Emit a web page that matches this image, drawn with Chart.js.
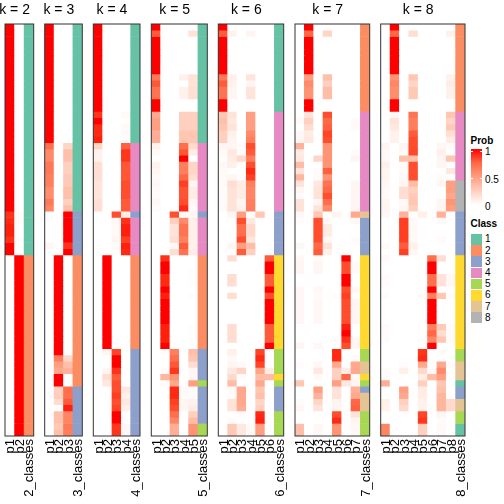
<!DOCTYPE html>
<html>
<head>
<meta charset="utf-8">
<script src="https://cdn.jsdelivr.net/npm/chart.js@4"></script>
<style>
body { margin: 0; background: #fff; font-family: "Liberation Sans", sans-serif; }
canvas { position: absolute; top: 0; }
.lg { position: absolute; font-size: 10px; line-height: 12px; color: #000; }
</style>
</head>
<body>
<script>
// membership probabilities, one array per column, top row first (groups of 10 rows)
const k2p1 = [1,1,1,1,1,1,1,1,1,1, 1,1,1,1,1,1,1,1,1,1, 1,1,1,1,1,1,1,1,1,1, .93,.95,.97,.97,.93,1,1,0,0,0, 0,0,0,0,0,0,0,0,0,0, 0,0,0,0,0,0,0,0,0,0, 0,0,0,0,0,0];
const k2p2 = [0,0,0,0,0,0,0,0,0,0, 0,0,0,0,0,0,0,0,0,0, 0,0,0,0,0,0,0,0,0,0, .02,.02,0,0,.02,0,0,1,1,1, 1,1,1,1,1,1,1,1,1,1, 1,1,1,1,1,1,1,1,1,1, 1,1,1,1,1,1];
const k2classes = [1,1,1,1,1,1,1,1,1,1, 1,1,1,1,1,1,1,1,1,1, 1,1,1,1,1,1,1,1,1,1, 1,1,1,1,1,1,1,2,2,2, 2,2,2,2,2,2,2,2,2,2, 2,2,2,2,2,2,2,2,2,2, 2,2,2,2,2,2];

const k3p1 = [1,1,1,1,1,1,1,1,1,1, 1,1,1,1,1,1,1,1,1,.72, .6,.6,.68,.68,.65,.65,.58,.58,.68,.62, 0,0,0,0,0,.04,0,0,0,0, 0,0,0,0,0,0,0,0,0,0, 0,0,0,0,0,0,0,0,0,0, 0,0,0,0,0,0];
const k3p2 = [0,0,0,0,0,0,0,0,0,0, 0,0,0,0,0,0,0,0,0,0, 0,0,0,0,0,0,0,0,0,0, 0,0,0,0,0,0,0,1,1,1, 1,1,1,1,1,1,1,1,1,1, 1,1,1,.65,.5,.45,1,1,.25,.27, .18,0,.33,.33,.28,.33];
const k3p3 = [0,0,0,0,0,0,0,0,0,0, 0,0,0,0,0,0,0,0,0,.22, .33,.33,.25,.25,.28,.28,.33,.33,.25,.33, 1,1,1,1,1,.93,1,0,0,0, 0,0,0,0,0,0,0,0,0,0, 0,0,0,.2,.33,.4,0,0,.72,.72, .8,.97,.62,.62,.68,.65];
const k3classes = [1,1,1,1,1,1,1,1,1,1, 1,1,1,1,1,1,1,1,1,1, 1,1,1,1,1,1,1,1,1,1, 3,3,3,3,3,3,3,2,2,2, 2,2,2,2,2,2,2,2,2,2, 2,2,2,2,2,2,2,2,3,3, 3,3,3,3,3,3];

const k4p1 = [1,1,1,1,1,1,1,1,1,1, 1,1,1,1,.92,1,.95,.95,.97,.22, .07,.07,.17,.17,.17,.14,.14,.14,.17,.17, 0,0,0,0,0,0,0,0,0,0, 0,0,0,0,0,0,0,0,0,0, 0,0,0,0,0,0,0,0,0,0, 0,0,0,0,0,0];
const k4p2 = [0,0,0,0,0,0,0,0,0,0, 0,0,0,0,0,0,0,0,0,0, 0,0,0,0,0,0,0,0,0,0, 0,0,0,0,0,0,0,1,1,1, 1,1,1,1,1,1,1,1,1,1, 1,1,.05,0,0,.05,.18,.12,0,0, 0,0,0,0,0,0];
const k4p3 = [0,0,0,0,0,0,0,0,0,0, 0,0,0,0,0,0,0,0,0,0, 0,0,0,0,0,0,0,0,0,0, .85,.04,.03,.03,.05,.03,.02,0,0,0, 0,0,0,0,0,0,0,0,0,0, 0,0,.88,1,1,.93,.8,.85,.85,.9, .85,.88,1,1,.92,.92];
const k4p4 = [0,0,0,0,0,0,0,0,0,0, 0,0,0,0,.03,0,.03,.03,.01,.78, .92,.92,.82,.82,.82,.85,.85,.85,.8,.8, .1,.93,.97,.97,.9,.97,.95,0,0,0, 0,0,0,0,0,0,0,0,0,0, 0,0,0,0,0,0,0,0,.12,.08, .12,.08,0,0,.04,.04];
const k4classes = [1,1,1,1,1,1,1,1,1,1, 1,1,1,1,1,1,1,1,1,4, 4,4,4,4,4,4,4,4,4,4, 3,4,4,4,4,4,4,2,2,2, 2,2,2,2,2,2,2,2,2,2, 2,2,3,3,3,3,3,3,3,3, 3,3,3,3,3,3];

const k5p1 = [1,.8,1,1,1,1,1,1,.68,.82, .7,.7,1,1,.45,.5,.5,.42,.42,.07, .03,0,.07,.05,.03,.04,.02,.02,.04,.02, 0,0,0,0,0,0,0,0,0,0, 0,0,0,0,0,0,0,0,0,0, 0,0,0,0,0,0,0,0,0,0, 0,0,0,0,0,0];
const k5p2 = [0,0,0,0,0,0,0,0,0,0, 0,0,0,0,0,0,0,0,0,0, 0,0,0,0,0,0,0,0,0,0, 0,0,0,0,0,0,0,.93,1,1, .95,.95,1,.97,1,1,1,1,.97,.97, .97,1,.01,0,0,.02,.38,.02,0,0, 0,0,0,0,0,0];
const k5p3 = [0,0,0,0,0,0,0,0,0,0, 0,0,0,0,0,0,0,0,0,0, 0,0,0,0,0,0,0,0,0,0, .85,.25,.15,.15,.18,.04,.18,0,0,0, 0,0,0,0,0,0,0,0,0,0, 0,0,.65,.72,.82,.92,.55,.45,.95,.95, .9,.85,.72,.62,.42,.42];
const k5p4 = [0,0,0,0,0,0,0,0,.07,0, .07,.07,0,0,.25,.25,.25,.3,.3,.72, .82,1,.65,.65,.75,.9,.83,.83,.85,.95, .02,.6,.7,.7,.65,.8,.7,0,0,0, 0,0,0,0,0,0,0,0,0,0, 0,0,0,0,0,0,0,0,.03,.03, .05,.05,0,0,0,0];
const k5p5 = [0,.15,0,0,0,0,0,0,.15,.15, .17,.17,0,0,.25,.25,.25,.3,.3,.2, .1,0,.22,.22,.18,.05,.1,.1,.04,.02, .05,.08,.08,.08,.08,.08,.1,0,0,.01, .01,.01,0,.01,0,0,0,0,.01,.01, .01,0,.33,.3,.18,.05,.04,.5,.02,.02, .07,.1,.25,.35,.55,.55];
const k5classes = [1,1,1,1,1,1,1,1,1,1, 1,1,1,1,1,1,1,1,1,4, 4,4,4,4,4,4,4,4,4,4, 3,4,4,4,4,4,4,2,2,2, 2,2,2,2,2,2,2,2,2,2, 2,2,3,3,3,3,3,5,3,3, 3,3,3,3,5,5];

const k6p1 = [1,.8,1,1,1,1,1,1,.68,.8, .7,.7,1,1,.3,.33,.3,.25,.25,.05, .03,.01,.04,.03,.03,.02,.02,.02,.02,.03, 0,0,0,0,0,0,0,0,0,0, 0,0,0,0,0,0,0,0,0,0, 0,0,0,0,0,0,0,0,0,0, 0,0,0,0,0,0];
const k6p2 = [0,.07,0,0,0,0,0,0,.08,.07, .05,.05,0,0,.15,.12,.15,.08,.06,.05, .12,.1,.08,0,.05,.18,.15,.15,.15,.15, .05,0,0,0,0,.05,0,.18,0,0, .18,.18,0,.18,0,0,0,0,.18,.18, .18,0,.08,.03,.05,.12,.2,.35,.03,.03, .15,.15,0,.02,.28,.28];
const k6p3 = [0,0,0,0,0,0,0,0,0,0, 0,0,0,0,0,0,0,0,0,.02, .02,.2,.01,.01,.01,.1,.1,.1,.05,.07, .5,.85,.72,.72,.85,.5,.8,0,0,0, 0,0,0,0,0,0,0,0,0,0, 0,0,0,0,.03,.22,.02,0,.45,.45, .45,.42,.02,0,.12,.12];
const k6p4 = [0,.06,0,0,0,0,0,0,.14,.05, .14,.14,0,0,.5,.5,.5,.6,.65,.85, .8,.65,.85,.95,.9,.65,.62,.62,.65,.65, 0,.12,.2,.2,.13,.35,.25,0,0,0, 0,0,0,0,0,0,0,0,0,0, 0,0,0,0,0,0,0,0,0,0, 0,0,0,0,.03,.03];
const k6p5 = [0,0,0,0,0,0,0,0,0,0, 0,0,0,0,0,0,0,0,0,0, 0,0,0,0,0,0,0,0,0,0, .3,0,0,0,0,0,0,0,0,0, 0,0,0,0,0,0,0,0,0,0, 0,0,.88,.95,.88,.47,.35,.45,.3,.33, .22,.25,.95,.97,.5,.5];
const k6p6 = [0,0,0,0,0,0,0,0,0,0, 0,0,0,0,0,0,0,0,0,0, 0,0,0,0,0,0,0,0,0,0, 0,0,0,0,0,0,0,.8,1,1, .8,.8,1,.85,1,1,1,1,.8,.8, .8,1,0,0,0,.1,.35,0,0,0, 0,0,0,0,0,0];
const k6classes = [1,1,1,1,1,1,1,1,1,1, 1,1,1,1,4,4,4,4,4,4, 4,4,4,4,4,4,4,4,4,4, 3,3,3,3,3,3,3,6,6,6, 6,6,6,6,6,6,6,6,6,6, 6,6,5,5,5,5,6,5,3,3, 3,3,5,5,5,5];

const k7p1 = [0,0,0,0,0,0,0,0,0,0, 0,0,0,0,0,.03,0,.04,.05,.4, .1,.12,.35,.15,.38,.15,.05,.02,.15,.15, .04,.02,0,0,0,.04,0,.04,.05,.05, 0,0,.04,.04,.04,.04,.04,.04,0,0, 0,.05,0,0,.02,0,0,.3,0,0, .02,.04,0,0,.33,.33];
const k7p2 = [1,.75,1,1,1,1,1,1,.5,.6, .55,.55,1,1,.15,.25,.18,.1,.12,0, 0,0,0,0,0,0,0,0,0,0, 0,0,0,0,0,0,0,0,0,0, 0,0,0,0,0,0,0,0,0,0, 0,0,0,0,0,0,0,0,0,0, 0,0,0,0,0,0];
const k7p3 = [0,0,0,0,0,0,0,0,0,0, 0,0,0,0,0,0,0,0,0,0, 0,.22,0,.02,.02,.12,.15,.15,.05,.15, .3,.85,.85,.85,.85,.75,.8,.03,.05,.05, 0,0,.04,.03,.04,.04,.04,.04,0,0, 0,.04,0,0,.04,.12,.03,0,.5,.4, .22,.15,0,0,.04,.04];
const k7p4 = [0,.22,0,0,0,0,0,0,.33,.25, .35,.35,0,0,.85,.75,.78,.88,.85,.55, .55,.55,.55,.78,.55,.7,.75,.85,.72,.6, 0,.03,.1,.1,.03,.15,.08,0,0,0, 0,0,0,0,0,0,0,0,0,0, 0,0,0,0,0,0,0,0,0,0, 0,0,0,0,0,0];
const k7p5 = [0,0,0,0,0,0,0,0,0,0, 0,0,0,0,0,0,0,0,0,0, 0,0,0,0,0,0,0,0,0,0, .06,0,0,0,0,0,0,0,0,0, 0,0,0,.01,0,0,0,0,0,0, .02,0,.95,.95,.45,.25,.25,.5,.15,.15, .06,.05,.85,.95,.55,.55];
const k7p6 = [0,0,0,0,0,0,0,0,0,0, 0,0,0,0,0,0,0,0,0,0, 0,0,0,0,0,0,0,0,0,0, 0,0,0,0,0,0,0,1,.85,.85, 1,1,.85,.9,.85,.85,.85,.85,.97,1, .93,.85,0,0,0,.1,.75,.12,0,0, 0,0,0,0,0,0];
const k7p7 = [0,0,0,0,0,0,0,0,0,0, 0,0,0,0,0,.03,.03,0,0,0, .02,.05,0,0,0,.05,.05,.05,.05,.05, .45,.04,0,0,.02,0,0,0,.03,.03, 0,0,.04,.01,.05,.05,.05,.05,0,0, .04,.05,0,.03,.45,.45,.04,.05,.4,.45, .75,.78,.15,.06,.04,.04];
const k7classes = [2,2,2,2,2,2,2,2,2,2, 2,2,2,2,4,4,4,4,4,4, 4,4,4,4,4,4,4,4,4,4, 7,3,3,3,3,3,3,6,6,6, 6,6,6,6,6,6,6,6,6,6, 6,6,5,5,7,7,6,5,3,7, 7,7,5,5,5,5];

const k8p1 = [0,0,0,0,0,0,0,0,0,0, 0,0,0,0,0,0,0,0,0,.05, .03,.03,.08,.05,.06,.04,.03,.02,.05,.05, .04,0,0,0,0,.03,0,.03,0,0, .02,.02,0,.02,0,0,0,0,.02,.02, .02,0,0,0,0,.02,.03,.42,0,0, .08,.07,0,0,.62,.62];
const k8p2 = [1,.75,1,1,1,1,1,1,.55,.62, .58,.58,1,1,.05,.15,.12,.07,.07,0, 0,0,0,0,0,0,0,0,0,0, 0,0,0,0,0,0,0,0,0,0, 0,0,0,0,0,0,0,0,0,0, 0,0,0,0,0,0,0,0,0,0, 0,0,0,0,0,0];
const k8p3 = [0,0,0,0,0,0,0,0,0,0, 0,0,0,0,0,0,0,0,0,.05, .03,.33,.03,.03,.04,.05,.18,.18,.03,.05, .4,.9,.9,.9,.9,.8,.9,0,0,0, 0,0,0,0,0,0,0,0,0,0, 0,0,0,0,.02,.08,0,0,.5,.45, .25,.2,0,0,0,0];
const k8p4 = [0,.18,0,0,0,0,0,0,.3,.22, .28,.28,0,0,.7,.65,.65,.8,.85,.85, .87,.33,.85,.85,.85,.35,.25,.28,.3,.25, 0,.03,.03,.03,.03,.08,.04,0,0,0, 0,0,0,0,0,0,0,0,0,0, 0,0,0,0,0,0,0,0,0,0, 0,0,0,0,0,0];
const k8p5 = [0,0,0,0,0,0,0,0,0,0, 0,0,0,0,0,0,0,0,0,0, 0,0,0,0,0,0,0,0,0,0, .08,0,0,0,0,0,0,0,0,0, 0,0,0,.03,0,0,0,0,0,0, 0,0,.92,.95,.45,.2,.1,.25,.1,.1, .07,.07,.88,.92,.25,.25];
const k8p6 = [0,0,0,0,0,0,0,0,0,0, 0,0,0,0,0,0,0,0,0,0, 0,0,0,0,0,0,0,0,0,0, 0,0,0,0,0,0,0,.72,1,1, .72,.72,1,.65,1,1,1,1,.65,.75, .62,1,0,0,0,.03,.35,0,0,0, 0,0,0,0,0,0];
const k8p7 = [0,0,0,0,0,0,0,0,0,0, 0,0,0,0,0,0,0,0,0,.04, .08,.05,.05,0,.02,.05,0,0,.05,.05, .4,.03,0,0,.03,0,0,.18,0,0, .15,.15,0,.3,0,0,0,0,.28,.18, .3,0,.02,0,.45,.6,.5,.3,.33,.38, .38,.38,.05,.02,.03,.03];
const k8p8 = [0,.07,0,0,0,0,0,0,.07,.1, .07,.07,0,0,.3,.22,.28,.17,.1,.02, 0,.3,0,.12,0,.5,.5,.45,.55,.5, 0,0,0,0,0,0,0,0,0,0, .04,.04,0,.02,0,0,0,0,.02,.02, .02,0,0,0,.02,0,0,0,0,0, .2,.2,0,0,0,0];
const k8classes = [2,2,2,2,2,2,2,2,2,2, 2,2,2,2,4,4,4,4,4,4, 4,4,4,4,4,8,8,8,8,8, 3,3,3,3,3,3,3,6,6,6, 6,6,6,6,6,6,6,6,6,6, 6,6,5,5,7,7,7,1,3,3, 7,7,5,5,1,1];

const classColors = ['#66C2A5', '#FC8D62', '#8DA0CB', '#E78AC3', '#A6D854', '#FFD92F', '#E5C494', '#B3B3B3'];
const probTicks = [1, 0.5, 0];

const panels = [
    { k: 2, cols: [k2p1, k2p2], classes: k2classes, left: 5, right: 33.7 },
    { k: 3, cols: [k3p1, k3p2, k3p3], classes: k3classes, left: 44.7, right: 82.3 },
    { k: 4, cols: [k4p1, k4p2, k4p3, k4p4], classes: k4classes, left: 93.3, right: 140 },
    { k: 5, cols: [k5p1, k5p2, k5p3, k5p4, k5p5], classes: k5classes, left: 151.3, right: 207.3 },
    { k: 6, cols: [k6p1, k6p2, k6p3, k6p4, k6p5, k6p6], classes: k6classes, left: 218.3, right: 283.7 },
    { k: 7, cols: [k7p1, k7p2, k7p3, k7p4, k7p5, k7p6, k7p7], classes: k7classes, left: 295, right: 369.7 },
    { k: 8, cols: [k8p1, k8p2, k8p3, k8p4, k8p5, k8p6, k8p7, k8p8], classes: k8classes, left: 380.7, right: 465 },
];

// white -> red, interpolated in LAB like colorRamp2
const probColor = function (v) {
    const L = 100 + (53.24 - 100) * v, a = 80.09 * v, b = 67.2 * v;
    const fy = (L + 16) / 116, fx = fy + a / 500, fz = fy - b / 200;
    const inv = t => t > 6 / 29 ? t * t * t : 3 * (6 / 29) * (6 / 29) * (t - 4 / 29);
    const X = 0.95047 * inv(fx), Y = inv(fy), Z = 1.08883 * inv(fz);
    const gam = c => {
        c = Math.min(1, Math.max(0, c));
        return Math.round(255 * (c <= 0.0031308 ? 12.92 * c : 1.055 * Math.pow(c, 1 / 2.4) - 0.055));
    };
    return `rgb(${gam(3.2406 * X - 1.5372 * Y - 0.4986 * Z)},${gam(-0.9689 * X + 1.8758 * Y + 0.0415 * Z)},${gam(0.0557 * X - 0.204 * Y + 1.057 * Z)})`;
};

// frame round the plot, and title centred over the probability columns only
const panelPlugin = {
    id: 'panelPlugin',
    afterLayout(chart) {
        const x = chart.scales.x, n = x.ticks.length;
        const cx = (x.getPixelForValue(0) + x.getPixelForValue(n - 2)) / 2;
        chart.titleBlock.left = cx - 40;
        chart.titleBlock.right = cx + 40;
    },
    afterDraw(chart) {
        const c = chart.chartArea, ctx = chart.ctx;
        ctx.save();
        ctx.strokeStyle = '#333';
        ctx.lineWidth = 1;
        ctx.strokeRect(c.left, c.top, c.right - c.left, c.bottom - c.top);
        ctx.restore();
    }
};

const drawPanel = function (p) {
    const rows = p.classes.length;
    const labels = p.cols.map((c, i) => 'p' + (i + 1)).concat(p.k + '_classes');
    const datasets = [];
    for (let r = 0; r < rows; r++) {
        datasets.push({
            data: labels.map(() => 1),
            backgroundColor: p.cols.map(c => probColor(c[r])).concat(classColors[p.classes[r] - 1]),
            borderWidth: 0,
            barPercentage: 1,
            categoryPercentage: 1
        });
    }
    const canvas = document.createElement('canvas');
    const cLeft = Math.floor(p.left) - 5, cRight = Math.ceil(p.right) + 5;
    canvas.width = cRight - cLeft;
    canvas.height = 504;
    canvas.style.left = cLeft + 'px';
    document.body.appendChild(canvas);
    new Chart(canvas, {
        type: 'bar',
        data: { labels: labels, datasets: datasets },
        plugins: [panelPlugin],
        options: {
            responsive: false,
            animation: false,
            layout: { padding: { left: p.left - cLeft, right: cRight - p.right, top: 0, bottom: 0 } },
            plugins: {
                legend: { display: false },
                tooltip: { enabled: false },
                title: {
                    display: true,
                    text: 'k = ' + p.k,
                    color: '#000',
                    font: { family: 'Liberation Sans', size: 14, weight: 'normal', lineHeight: 1.2 },
                    padding: { top: 2, bottom: 5.2 }
                }
            },
            scales: {
                x: {
                    stacked: true,
                    grid: { display: false, tickLength: 3 },
                    border: { display: false },
                    ticks: {
                        autoSkip: false, minRotation: 90, maxRotation: 90, padding: 0, labelOffset: 1, color: '#000',
                        font: { family: 'Liberation Sans', size: 13 }
                    },
                    afterFit(scale) {
                        scale.height = 68;
                        scale.paddingLeft = 0;
                        scale.paddingRight = 0;
                    }
                },
                y: { stacked: true, display: false, reverse: true, min: 0, max: rows }
            }
        }
    });
};
panels.forEach(drawPanel);

// legends on the right
const addText = function (text, x, y, bold) {
    const d = document.createElement('div');
    d.className = 'lg';
    d.textContent = text;
    d.style.left = x + 'px';
    d.style.top = (y - 6) + 'px';
    if (bold) d.style.fontWeight = 'bold';
    document.body.appendChild(d);
};
const addBox = function (x, y, w, h, bg) {
    const d = document.createElement('div');
    d.style.cssText = `position:absolute;left:${x}px;top:${y}px;width:${w}px;height:${h}px;background:${bg}`;
    document.body.appendChild(d);
    return d;
};
addText('Prob', 470.5, 140.5, true);
const ramp = [1, 0.75, 0.5, 0.25, 0].map(probColor).join(',');
addBox(471, 149, 11, 56, `linear-gradient(${ramp})`);
probTicks.forEach((t, i) => {
    addText(String(t), 485, 151.7 + i * 27.8, false);
    addBox(471, 150.5 + i * 27, 2, 1, '#fff');
    addBox(480, 150.5 + i * 27, 2, 1, '#fff');
});
addText('Class', 470.5, 224, true);
classColors.forEach((c, i) => {
    addBox(471, 234 + i * 11.2, 10.5, 10.5, c);
    addText(String(i + 1), 485, 239.3 + i * 11.2, false);
});
</script>
</body>
</html>
